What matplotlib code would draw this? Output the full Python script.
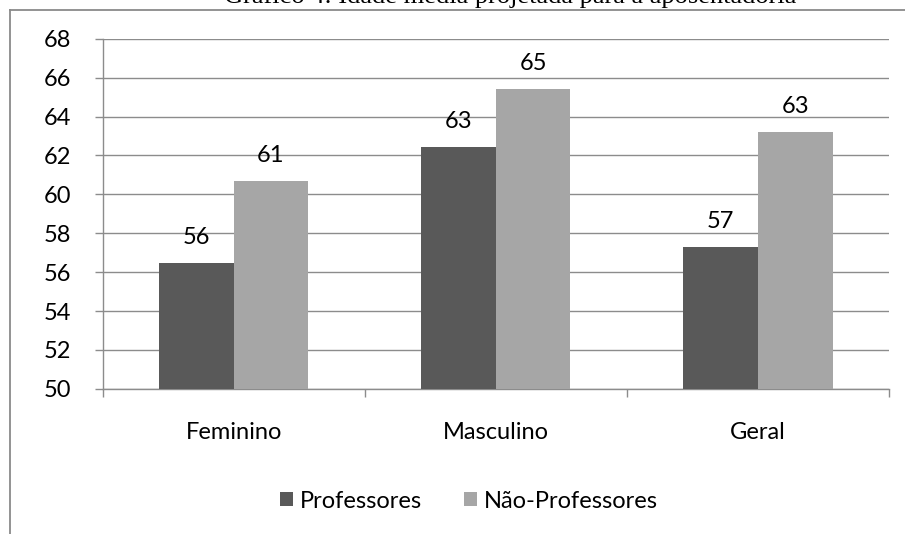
import matplotlib
matplotlib.use("Agg")
import matplotlib.pyplot as plt
from matplotlib.patches import Patch
from matplotlib.lines import Line2D
import numpy as np

categories = ["Feminino", "Masculino", "Geral"]
series_names = ["Professores", "Não-Professores"]
professores = [56.45, 62.45, 57.3]
nao_professores = [60.7, 65.4, 63.2]
prof_labels = ["56", "63", "57"]
nao_labels = ["61", "65", "63"]
yticks = [50, 52, 54, 56, 58, 60, 62, 64, 66, 68]
title = "Gráfico 4: Idade média projetada para a aposentadoria"

W, H = 905, 534
FONT = "Lato"
FS = 17
DARK = "#595959"
LIGHT = "#a6a6a6"
GRID = "#8c8c8c"

fig = plt.figure(figsize=(W / 100, H / 100), dpi=100)
fig.patch.set_facecolor("white")

# outer frame (partially visible)
fig.add_artist(Line2D([9.5 / W, 9.5 / W], [0, 1 - 10 / H], color="#8a8a8a", lw=1.3, transform=fig.transFigure))
fig.add_artist(Line2D([9.5 / W, 1.0], [1 - 10 / H, 1 - 10 / H], color="#8a8a8a", lw=1.3, transform=fig.transFigure))

# title, clipped at the top edge as in the reference
fig.text(510 / W, 1 - 2.5 / H, title, ha="center", va="baseline",
         fontsize=19, family="Liberation Serif", color="black")

left, right = 102.5, 889
top, bottom = 38.7, 388.8
ax = fig.add_axes([left / W, 1 - bottom / H, (right - left) / W, (bottom - top) / H])

x = np.arange(len(categories))
bw = 0.285
b1 = ax.bar(x - bw / 2, professores, bw, color=DARK, zorder=3, label=series_names[0])
b2 = ax.bar(x + bw / 2, nao_professores, bw, color=LIGHT, zorder=3, label=series_names[1])

for bars, labs in ((b1, prof_labels), (b2, nao_labels)):
    for rect, lab in zip(bars, labs):
        ax.annotate(lab, (rect.get_x() + rect.get_width() / 2, rect.get_height()),
                    xytext=(0, 13.7), textcoords="offset points", ha="center", va="baseline",
                    fontsize=FS, family=FONT, color="black", zorder=5)

ax.set_xlim(-0.5, 2.5)
ax.set_ylim(50, 68)
ax.set_yticks(yticks)
ax.set_yticklabels([str(v) for v in yticks], fontsize=FS, family=FONT)
ax.yaxis.grid(True, color=GRID, lw=1, zorder=0)
ax.set_axisbelow(True)

ax.set_xticks([-0.5, 0.5, 1.5, 2.5])
ax.set_xticklabels([])
ax.set_xticks(x, minor=True)
ax.set_xticklabels(categories, minor=True, fontsize=FS, family=FONT)
ax.tick_params(axis="x", which="minor", length=0, pad=24)
ax.tick_params(axis="x", which="major", length=8 * 0.72, width=1, color=GRID)
ax.tick_params(axis="y", length=8 * 0.72, width=1, color=GRID, pad=17)

for s in ["top", "right"]:
    ax.spines[s].set_visible(False)
for s in ["left", "bottom"]:
    ax.spines[s].set_color(GRID)
    ax.spines[s].set_linewidth(1)

handles = [Patch(facecolor=DARK, edgecolor="none"), Patch(facecolor=LIGHT, edgecolor="none")]
fig.legend(handles, series_names, loc="center", bbox_to_anchor=(469 / W, 1 - 501 / H),
           ncol=2, frameon=False, prop={"family": FONT, "size": FS},
           handlelength=0.56, handleheight=0.56, handletextpad=0.3, columnspacing=1.75,
           borderpad=0, borderaxespad=0)

fig.savefig("out.png", dpi=100, facecolor="white")
